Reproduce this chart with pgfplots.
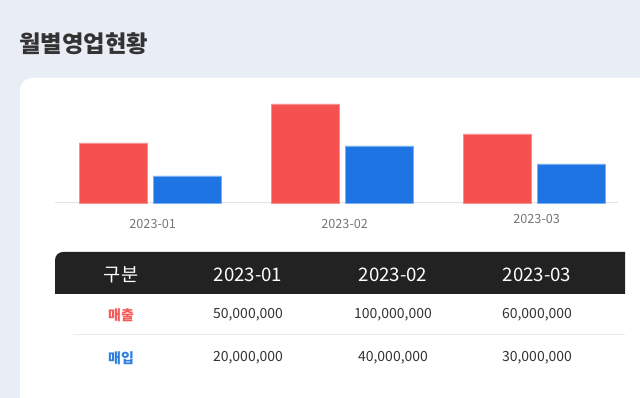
\documentclass[border=0pt]{standalone}
\usepackage{fontspec}
\setmainfont{Noto Sans CJK KR}
\usepackage{pgfplots}
\pgfplotsset{compat=1.18}
\definecolor{bg}{HTML}{E9EEF6}
\definecolor{redbar}{HTML}{F55151}
\definecolor{rededge}{HTML}{F89090}
\definecolor{bluebar}{HTML}{1E74E2}
\definecolor{blueedge}{HTML}{7AB0F0}
\definecolor{hdr}{HTML}{222222}
\definecolor{redtxt}{HTML}{F55A5A}
\definecolor{bluetxt}{HTML}{2F7FE0}
\definecolor{valtxt}{HTML}{333333}
\definecolor{ticktxt}{HTML}{777777}
\definecolor{baseline}{HTML}{E3E3E3}
\definecolor{sep}{HTML}{EBEBEB}
\begin{document}
\begin{tikzpicture}
\begin{scope}[x=0.75pt,y=-0.75pt]
  \fill[bg] (0,0) rectangle (640,398);
  \useasboundingbox (0,0) rectangle (640,398);
  \fill[white] (20,398) -- (20,90) arc[start angle=180,end angle=270,radius=12] -- (640,78) -- (640,398) -- cycle;
  \node[anchor=west,inner sep=0pt,text=valtxt,font=\fontsize{17.5pt}{20pt}\selectfont\bfseries] at (19,44) {월별영업현황};
  % table header
  \fill[hdr] (55,294) -- (55,260) arc[start angle=180,end angle=270,radius=8] -- (625,252) -- (625,294) -- cycle;
  \begin{scope}[every node/.style={inner sep=0pt,anchor=center}]
    \node[text=white,font=\fontsize{14pt}{16pt}\selectfont] at (121,275) {구분};
    \node[text=white,font=\fontsize{14pt}{16pt}\selectfont] at (248,275) {2023-01};
    \node[text=white,font=\fontsize{14pt}{16pt}\selectfont] at (393,275) {2023-02};
    \node[text=white,font=\fontsize{14pt}{16pt}\selectfont] at (537,275) {2023-03};
    \node[text=redtxt,font=\fontsize{10.5pt}{12pt}\selectfont\bfseries] at (121,315) {매출};
    \node[text=valtxt,font=\fontsize{10.5pt}{12pt}\selectfont] at (248,315) {50,000,000};
    \node[text=valtxt,font=\fontsize{10.5pt}{12pt}\selectfont] at (393,315) {100,000,000};
    \node[text=valtxt,font=\fontsize{10.5pt}{12pt}\selectfont] at (537,315) {60,000,000};
    \node[text=bluetxt,font=\fontsize{10.5pt}{12pt}\selectfont\bfseries] at (121,358) {매입};
    \node[text=valtxt,font=\fontsize{10.5pt}{12pt}\selectfont] at (248,358) {20,000,000};
    \node[text=valtxt,font=\fontsize{10.5pt}{12pt}\selectfont] at (393,358) {40,000,000};
    \node[text=valtxt,font=\fontsize{10.5pt}{12pt}\selectfont] at (537,358) {30,000,000};
  \end{scope}
  \draw[sep,line width=0.75pt] (73,335) -- (625,335);
\end{scope}
\begin{axis}[
  at={(41.25pt,-152.25pt)}, anchor=south west,
  scale only axis, width=422.25pt, height=74.25pt,
  xmin=-0.495, xmax=2.4375, ymin=0, ymax=99,
  axis y line=none, axis x line*=bottom,
  x axis line style={draw=baseline,line width=0.75pt},
  xtick={0,1}, xticklabels={2023-01,2023-02},
  extra x ticks={2}, extra x tick labels={2023-03},
  extra x tick style={xticklabel style={yshift=3.75pt}},
  major tick length=0pt,
  xtick style={draw=none},
  xticklabel style={anchor=center,xshift=2pt,yshift=-15.75pt,text=ticktxt,font=\fontsize{9.5pt}{11pt}\selectfont},
  /pgf/number format/assume math mode=true,
  ybar, bar width=51pt,
  clip=false,
]
\addplot[fill=redbar,draw=rededge,line width=0.6pt,bar shift=-27.75pt] coordinates {(0,60) (1,99) (2,69)};
\addplot[fill=bluebar,draw=blueedge,line width=0.6pt,bar shift=27.75pt] coordinates {(0,27) (1,57) (2,39)};
\end{axis}
\end{tikzpicture}
\end{document}
